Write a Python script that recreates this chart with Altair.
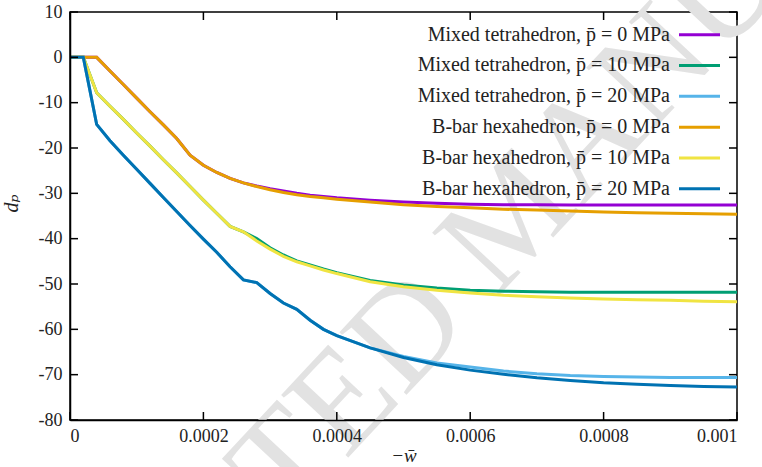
import altair as alt
import pandas as pd

# -w values (x axis)
w_values = [0.0, 0.00002, 0.00004, 0.00006, 0.00008, 0.0001, 0.00012, 0.00014,
            0.00016, 0.00018, 0.0002, 0.00022, 0.00024, 0.00026, 0.00028, 0.0003,
            0.00032, 0.00034, 0.00036, 0.00038, 0.0004, 0.00045, 0.0005, 0.00055,
            0.0006, 0.00065, 0.0007, 0.00075, 0.0008, 0.00085, 0.0009, 0.00095, 0.001]

mixed_p0 = [0, 0, 0, -3.0, -6.0, -9.0, -12.0, -14.9, -17.9, -21.6, -23.8, -25.4, -26.7,
            -27.7, -28.4, -29.0, -29.5, -30.0, -30.4, -30.7, -31.0, -31.5, -31.9, -32.2,
            -32.4, -32.5, -32.5, -32.6, -32.6, -32.6, -32.6, -32.6, -32.6]
mixed_p10 = [0, 0, -7.8, -10.8, -13.7, -16.7, -19.6, -22.6, -25.5, -28.5, -31.5, -34.4,
             -37.3, -38.5, -40.0, -42.0, -43.6, -44.9, -45.8, -46.7, -47.5, -49.2, -50.2,
             -50.9, -51.4, -51.6, -51.7, -51.8, -51.8, -51.8, -51.8, -51.8, -51.8]
mixed_p20 = [0, 0, -14.8, -18.4, -21.6, -24.7, -27.8, -30.9, -34.0, -37.1, -40.1, -43.0,
             -46.2, -49.1, -49.7, -52.1, -54.2, -55.6, -58.0, -60.0, -61.4, -64.1, -66.0,
             -67.4, -68.3, -69.2, -69.8, -70.2, -70.4, -70.5, -70.6, -70.6, -70.6]
bbar_p0 = [0, 0, 0, -3.0, -6.0, -9.0, -12.0, -14.9, -17.9, -21.6, -23.8, -25.4, -26.7,
           -27.7, -28.5, -29.2, -29.8, -30.3, -30.7, -31.0, -31.3, -31.9, -32.5, -32.9,
           -33.2, -33.5, -33.7, -33.9, -34.1, -34.3, -34.4, -34.5, -34.6]
bbar_p10 = [0, 0, -7.8, -10.8, -13.7, -16.7, -19.6, -22.6, -25.5, -28.5, -31.5, -34.4,
            -37.3, -38.5, -40.5, -42.3, -43.9, -45.1, -46.0, -46.9, -47.7, -49.5, -50.6,
            -51.4, -52.0, -52.5, -52.8, -53.1, -53.3, -53.5, -53.6, -53.8, -53.9]
bbar_p20 = [0, 0, -14.8, -18.4, -21.6, -24.7, -27.8, -30.9, -34.0, -37.1, -40.1, -43.0,
            -46.2, -49.1, -49.7, -52.1, -54.2, -55.6, -58.0, -60.0, -61.4, -64.1, -66.2,
            -67.8, -69.0, -69.9, -70.7, -71.3, -71.8, -72.1, -72.4, -72.6, -72.7]

series_names = [
    "Mixed tetrahedron, p\u0304 = 0 MPa",
    "Mixed tetrahedron, p\u0304 = 10 MPa",
    "Mixed tetrahedron, p\u0304 = 20 MPa",
    "B-bar hexahedron, p\u0304 = 0 MPa",
    "B-bar hexahedron, p\u0304 = 10 MPa",
    "B-bar hexahedron, p\u0304 = 20 MPa",
]
series_colors = ["#9400d3", "#009e73", "#56b4e9", "#e69f00", "#f0e442", "#0072b2"]
series_values = [mixed_p0, mixed_p10, mixed_p20, bbar_p0, bbar_p10, bbar_p20]

x_ticks = [0, 0.0002, 0.0004, 0.0006, 0.0008, 0.001]
y_ticks = [10, 0, -10, -20, -30, -40, -50, -60, -70, -80]

W, H = 667, 408
FONT = "Liberation Serif, DejaVu Serif, serif"
TXT = "#222222"

xscale = alt.Scale(domain=[0, 0.001], nice=False, zero=False)
yscale = alt.Scale(domain=[-80, 10], nice=False, zero=False)

layers = []

# watermark
wm = alt.Chart(pd.DataFrame({"t": ["ACCEPTED MANUSCRIPT"]})).mark_text(
    font=FONT, fontSize=140, color="#e2e2e2", angle=313, align="center", baseline="middle"
).encode(text="t:N", x=alt.value(445), y=alt.value(205))
layers.append(wm)

for i, (name, col, vals) in enumerate(zip(series_names, series_colors, series_values)):
    df = pd.DataFrame({"w": w_values, "d": vals})
    if i == 0:
        xenc = alt.X("w:Q", scale=xscale, axis=alt.Axis(
            values=x_ticks, labelExpr="'' + datum.value", tickSize=0, grid=False,
            domainColor="black", domainWidth=1.5, labelFont=FONT, labelFontSize=18,
            labelColor=TXT, labelPadding=7, title="\u2212w\u0304", titleFont=FONT,
            titleFontSize=19, titleFontWeight="normal", titleFontStyle="italic",
            titleColor=TXT, titlePadding=1, zindex=1))
        yenc = alt.Y("d:Q", scale=yscale, axis=alt.Axis(
            values=y_ticks, labelExpr="'' + datum.value", tickSize=0, grid=False,
            domainColor="black", domainWidth=1.5, labelFont=FONT, labelFontSize=18,
            labelColor=TXT, labelPadding=8, title="d\u209a", titleFont=FONT,
            titleFontSize=20, titleFontWeight="normal", titleFontStyle="italic",
            titleColor=TXT, titleX=-49, titleY=191, zindex=1))
    else:
        xenc = alt.X("w:Q", scale=xscale)
        yenc = alt.Y("d:Q", scale=yscale)
    layers.append(alt.Chart(df).mark_line(strokeWidth=3, color=col, clip=True).encode(x=xenc, y=yenc))

# inward ticks
xt = pd.DataFrame({"t": x_ticks})
yt = pd.DataFrame({"t": y_ticks})
layers.append(alt.Chart(xt).mark_rule(color="black", strokeWidth=1.5).encode(
    x=alt.X("t:Q", scale=xscale), y=alt.value(H), y2=alt.value(H - 8)))
layers.append(alt.Chart(xt).mark_rule(color="black", strokeWidth=1.5).encode(
    x=alt.X("t:Q", scale=xscale), y=alt.value(0), y2=alt.value(8)))
layers.append(alt.Chart(yt).mark_rule(color="black", strokeWidth=1.5).encode(
    y=alt.Y("t:Q", scale=yscale), x=alt.value(0), x2=alt.value(8)))
layers.append(alt.Chart(yt).mark_rule(color="black", strokeWidth=1.5).encode(
    y=alt.Y("t:Q", scale=yscale), x=alt.value(W), x2=alt.value(W - 8)))

# legend (gnuplot style: text left of sample)
leg = pd.DataFrame({"name": series_names, "color": series_colors,
                    "order": list(range(len(series_names)))})
legbase = alt.Chart(leg).transform_calculate(ly="5 - 6.8 * datum.order")
layers.append(legbase.mark_text(font=FONT, fontSize=20, color=TXT, align="right",
                                baseline="middle").encode(
    text="name:N", x=alt.value(600), y=alt.Y("ly:Q", scale=yscale)))
layers.append(legbase.mark_rule(strokeWidth=3).encode(
    x=alt.value(609), x2=alt.value(650), y=alt.Y("ly:Q", scale=yscale),
    color=alt.Color("color:N", scale=None)))

chart = alt.layer(*layers).properties(
    width=W, height=H,
    padding={"left": 70, "top": 12, "right": 25, "bottom": 47},
    autosize=alt.AutoSizeParams(type="none"),
    background="white",
).configure_view(stroke="black", strokeWidth=1.5)

chart.save("out.html", embed_options={"renderer": "svg", "actions": False})
